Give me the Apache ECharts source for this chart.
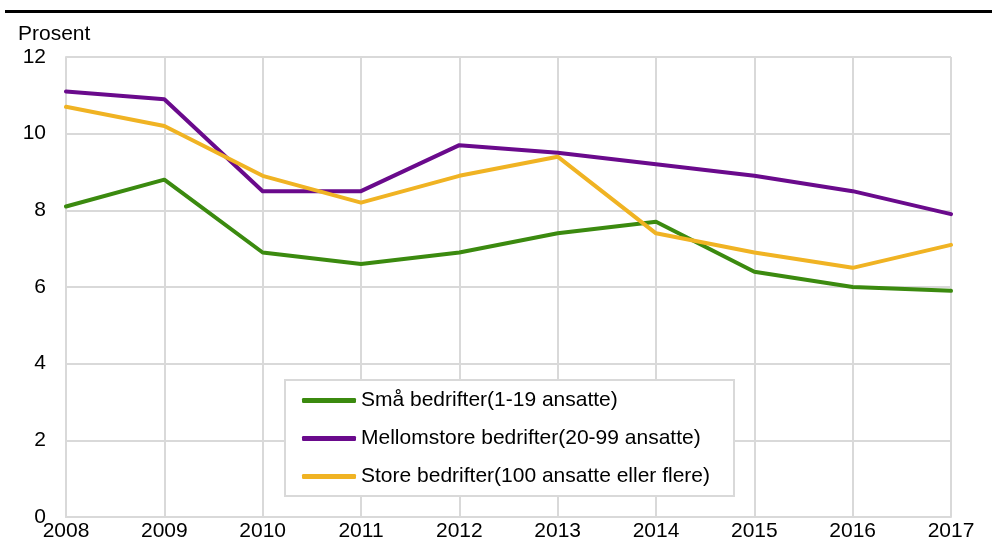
<!DOCTYPE html>
<html><head><meta charset="utf-8">
<script src="https://cdn.jsdelivr.net/npm/echarts@6/dist/echarts.min.js"></script>
<style>html,body{margin:0;padding:0;background:#fff}#c{width:992px;height:556px}</style>
</head><body><div id="c"></div>
<script>
const years = ['2008','2009','2010','2011','2012','2013','2014','2015','2016','2017'];
const smaa = [8.1, 8.8, 6.9, 6.6, 6.9, 7.4, 7.7, 6.4, 6.0, 5.9];
const mellom = [11.1, 10.9, 8.5, 8.5, 9.7, 9.5, 9.2, 8.9, 8.5, 7.9];
const store = [10.7, 10.2, 8.9, 8.2, 8.9, 9.4, 7.4, 6.9, 6.5, 7.1];
const names = ['Små bedrifter(1-19 ansatte)', 'Mellomstore bedrifter(20-99 ansatte)', 'Store bedrifter(100 ansatte eller flere)'];
const colors = ['#3b8a0f', '#6a0a8c', '#f0b323'];

const chart = echarts.init(document.getElementById('c'));
const font = 'Liberation Sans, Arial, sans-serif';
const fs = 21;
function mk(name, data, color) {
  return { name, type: 'line', data, symbol: 'none', lineStyle: { width: 4, color, cap: 'round', join: 'round' }, itemStyle: { color } };
}
chart.setOption({
  animation: false,
  color: colors,
  grid: { left: 66, right: 41, top: 57, bottom: 39, containLabel: false },
  graphic: [
    { type: 'rect', shape: { x: 5, y: 10, width: 987, height: 3 }, style: { fill: '#000' } },
    { type: 'text', left: 18, top: 24, style: { text: 'Prosent', font: fs + 'px ' + font, fill: '#000' } }
  ],
  xAxis: {
    type: 'category', data: years, boundaryGap: false,
    axisLine: { lineStyle: { color: '#d9d9d9', width: 2 } },
    axisTick: { show: false },
    axisLabel: { color: '#000', fontSize: fs, fontFamily: font, margin: 4 },
    splitLine: { show: true, lineStyle: { color: '#d9d9d9', width: 2 } }
  },
  yAxis: {
    type: 'value', min: 0, max: 12, interval: 2,
    axisLine: { show: true, lineStyle: { color: '#d9d9d9', width: 2 } },
    axisTick: { show: false },
    axisLabel: { color: '#000', fontSize: fs, fontFamily: font, margin: 20 },
    splitLine: { lineStyle: { color: '#d9d9d9', width: 2 } }
  },
  legend: {
    orient: 'vertical', left: 285, top: 380,
    padding: [10, 24, 9, 17],
    borderColor: '#d9d9d9', borderWidth: 2, backgroundColor: '#fff',
    itemWidth: 54, itemHeight: 5, itemGap: 17,
    icon: 'roundRect',
    textStyle: { color: '#000', fontSize: fs, fontFamily: font },
    data: names
  },
  series: [mk(names[0], smaa, colors[0]), mk(names[1], mellom, colors[1]), mk(names[2], store, colors[2])]
});
</script></body></html>
